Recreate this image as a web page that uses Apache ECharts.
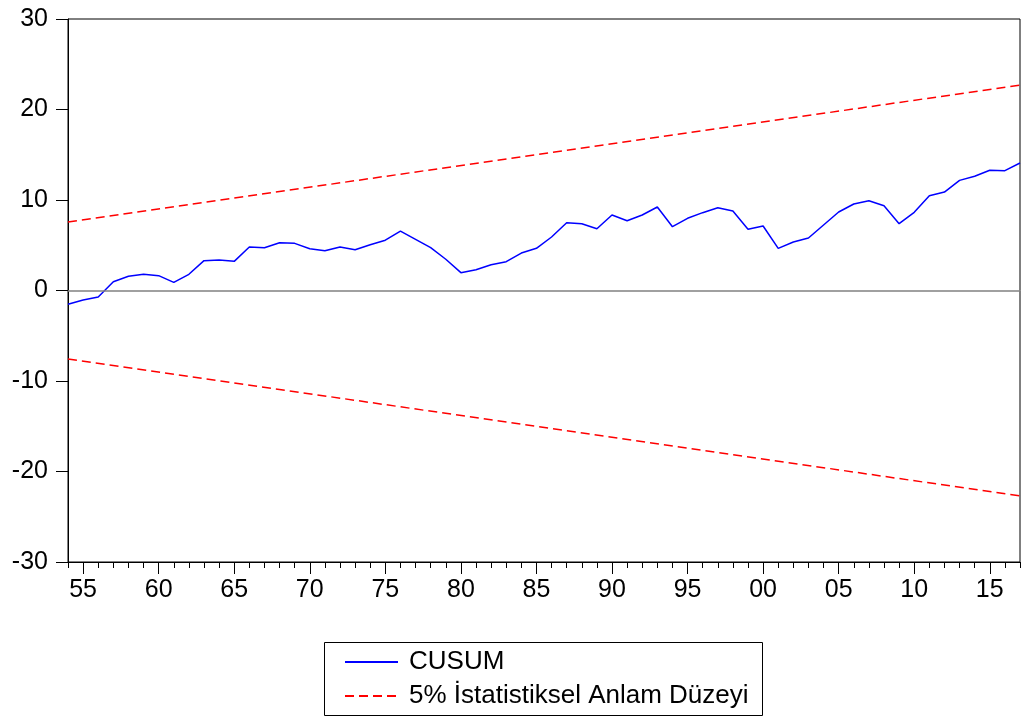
<!DOCTYPE html>
<html>
<head>
<meta charset="utf-8">
<script src="https://cdn.jsdelivr.net/npm/echarts@6/dist/echarts.min.js"></script>
<style>html,body{margin:0;padding:0;background:#fff;}#c{width:1021px;height:721px;}</style>
</head>
<body>
<div id="c"></div>
<script>
var years = ['1954','1955','1956','1957','1958','1959','1960','1961','1962','1963','1964','1965','1966','1967','1968','1969','1970','1971','1972','1973','1974','1975','1976','1977','1978','1979','1980','1981','1982','1983','1984','1985','1986','1987','1988','1989','1990','1991','1992','1993','1994','1995','1996','1997','1998','1999','2000','2001','2002','2003','2004','2005','2006','2007','2008','2009','2010','2011','2012','2013','2014','2015','2016','2017'];
var cusum = [-1.52,-1.05,-0.72,0.97,1.57,1.79,1.64,0.9,1.79,3.3,3.37,3.22,4.8,4.73,5.28,5.21,4.62,4.4,4.8,4.5,5.06,5.56,6.57,5.65,4.73,3.45,1.97,2.3,2.85,3.18,4.14,4.66,5.91,7.49,7.38,6.83,8.34,7.71,8.34,9.23,7.05,7.98,8.6,9.15,8.78,6.76,7.13,4.66,5.36,5.8,7.24,8.67,9.56,9.92,9.37,7.38,8.64,10.48,10.88,12.17,12.62,13.28,13.24,14.09];
var upperBound = [['1954', 7.57], ['2017', 22.7]];
var lowerBound = [['1954', -7.57], ['2017', -22.7]];
var yTicks = [-30, 30, 10];
var seriesNames = ['CUSUM', '5% İstatistiksel Anlam Düzeyi'];

var chart = echarts.init(document.getElementById('c'), null, {renderer: 'canvas'});
var font = 'Liberation Sans, Arial, sans-serif';
chart.setOption({
  animation: false,
  backgroundColor: '#fff',
  grid: {left: 68, right: 1, top: 19, bottom: 159, show: true, borderColor: '#000', borderWidth: 1, backgroundColor: 'transparent'},
  xAxis: [{
    type: 'category', data: years, boundaryGap: false, position: 'bottom',
    axisLine: {onZero: false, lineStyle: {color: '#000', width: 1}},
    axisTick: {interval: 0, length: 6, lineStyle: {color: '#000'}},
    axisLabel: {interval: function (i, v) { return (+v) % 5 === 0; }, formatter: function (v) { return v.slice(2); },
      color: '#000', fontSize: 25, fontFamily: font, margin: 16},
    splitLine: {show: false}
  }, {
    type: 'category', data: years, boundaryGap: false, position: 'bottom',
    axisLine: {show: false, onZero: false},
    axisTick: {interval: function (i, v) { return (+v) % 5 === 0; }, length: 12, lineStyle: {color: '#000'}},
    axisLabel: {show: false},
    splitLine: {show: false}
  }],
  yAxis: {
    type: 'value', min: yTicks[0], max: yTicks[1], interval: yTicks[2],
    axisLine: {show: true, lineStyle: {color: '#000', width: 1}},
    axisTick: {show: true, length: 12, lineStyle: {color: '#000'}},
    axisLabel: {color: '#000', fontSize: 25, fontFamily: font, margin: 20, padding: [0, 0, 10, 0]},
    splitLine: {show: false}
  },
  legend: {
    orient: 'vertical', left: 339, top: 644, itemWidth: 53, itemHeight: 14, itemGap: 8,
    data: seriesNames,
    itemStyle: {opacity: 0, color: 'transparent', borderWidth: 0},
    textStyle: {color: '#000', fontSize: 26, fontFamily: font, padding: [0, 0, 0, 6]}
  },
  graphic: [{
    type: 'rect', x: 324.5, y: 642.5, z: 100,
    shape: {x: 0, y: 0, width: 438, height: 73},
    style: {fill: 'none', stroke: '#000', lineWidth: 1}
  }],
  series: [{
    name: seriesNames[0], type: 'line', data: cusum, symbol: 'none',
    lineStyle: {color: '#0000ff', width: 1.5}, itemStyle: {color: '#0000ff'},
    markLine: {silent: true, symbol: 'none', label: {show: false},
      lineStyle: {color: '#808080', width: 1.5, type: 'solid'}, data: [{yAxis: 0}]},
    z: 3
  }, {
    name: seriesNames[1], type: 'line', data: upperBound, symbol: 'none',
    lineStyle: {color: '#ff0000', width: 1.5, type: [9, 5]}, itemStyle: {color: '#ff0000'}
  }, {
    name: seriesNames[1], type: 'line', data: lowerBound, symbol: 'none',
    lineStyle: {color: '#ff0000', width: 1.5, type: [9, 5]}, itemStyle: {color: '#ff0000'}
  }]
});
</script>
</body>
</html>
